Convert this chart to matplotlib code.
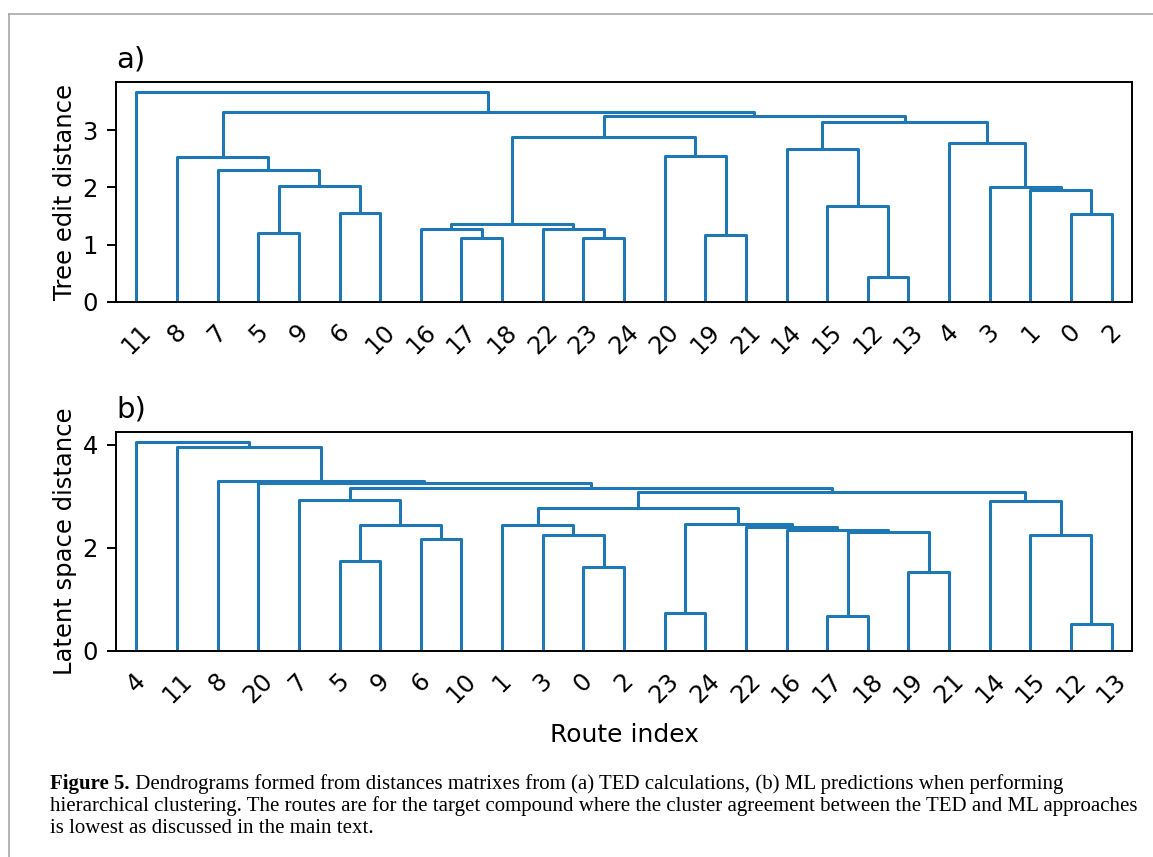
import matplotlib
matplotlib.use("Agg")
import matplotlib.pyplot as plt
from matplotlib.lines import Line2D

# leaf order along the x axis (as drawn by the dendrogram)
leaves_a = [11, 8, 7, 5, 9, 6, 10, 16, 17, 18, 22, 23, 24, 20, 19, 21, 14, 15, 12, 13, 4, 3, 1, 0, 2]
leaves_b = [4, 11, 8, 20, 7, 5, 9, 6, 10, 1, 3, 0, 2, 23, 24, 22, 16, 17, 18, 19, 21, 14, 15, 12, 13]

# linkage rows: left child, right child, merge height (cluster ids start at 25)
links_a = [
    (5, 9, 1.20), (6, 10, 1.55), (25, 26, 2.02), (7, 27, 2.30), (8, 28, 2.53),
    (17, 18, 1.11), (16, 30, 1.28), (23, 24, 1.11), (22, 32, 1.28), (31, 33, 1.365),
    (19, 21, 1.17), (20, 35, 2.55), (34, 36, 2.88), (12, 13, 0.43), (15, 38, 1.68),
    (14, 39, 2.67), (0, 2, 1.54), (1, 41, 1.95), (3, 42, 2.00), (4, 43, 2.78),
    (40, 44, 3.15), (37, 45, 3.25), (29, 46, 3.32), (11, 47, 3.67),
]
links_b = [
    (5, 9, 1.75), (6, 10, 2.17), (25, 26, 2.44), (7, 27, 2.93), (0, 2, 1.63),
    (3, 29, 2.24), (1, 30, 2.44), (23, 24, 0.74), (17, 18, 0.68), (19, 21, 1.54),
    (33, 34, 2.30), (16, 35, 2.35), (22, 36, 2.40), (32, 37, 2.46), (31, 38, 2.78),
    (12, 13, 0.52), (15, 40, 2.24), (14, 41, 2.90), (39, 42, 3.08), (28, 43, 3.16),
    (20, 44, 3.25), (8, 45, 3.29), (11, 46, 3.95), (4, 47, 4.05),
]

caption_bold = "Figure 5."
caption_lines = [
    " Dendrograms formed from distances matrixes from (a) TED calculations, (b) ML predictions when performing",
    "hierarchical clustering. The routes are for the target compound where the cluster agreement between the TED and ML approaches",
    "is lowest as discussed in the main text.",
]

plt.rcParams["font.size"] = 17.5
plt.rcParams["axes.linewidth"] = 1.4
plt.rcParams["ytick.major.size"] = 6.5
plt.rcParams["ytick.major.width"] = 1.4
plt.rcParams["ytick.major.pad"] = 6.5
plt.rcParams["xtick.major.size"] = 6.5
plt.rcParams["xtick.major.pad"] = 6.5


def dendro(ax, order, links):
    n = len(order)
    xs = {leaf: 10 * i + 5 for i, leaf in enumerate(order)}
    hs = {leaf: 0.0 for leaf in order}
    for k, (a, b, h) in enumerate(links):
        ax.plot([xs[a], xs[a], xs[b], xs[b]], [hs[a], h, h, hs[b]], color="C0", lw=2.2)
        xs[n + k] = (xs[a] + xs[b]) / 2
        hs[n + k] = h
    ax.set_xlim(0, 10 * n)
    ax.set_ylim(0, max(l[2] for l in links) * 1.05)
    ax.set_xticks([10 * i + 5 for i in range(n)])
    ax.set_xticklabels([str(v) for v in order], rotation=45)
    for t in ax.get_xticklines():
        t.set_visible(False)


fig = plt.figure(figsize=(11.53, 8.57), dpi=100)
ax1 = fig.add_axes([0.1006, 0.648, 0.8812, 0.2567])
ax2 = fig.add_axes([0.1006, 0.2404, 0.8812, 0.2559])

dendro(ax1, leaves_a, links_a)
ax1.set_ylabel("Tree edit distance")
ax1.set_title("a)", loc="left", pad=10.5)

dendro(ax2, leaves_b, links_b)
ax2.set_ylabel("Latent space distance")
ax2.set_xlabel("Route index", labelpad=11, fontsize=18)
ax2.set_title("b)", loc="left", pad=10.5)

# page frame
fig.add_artist(Line2D([0.0078, 1.0], [0.984, 0.984], color="#a8a8a8", lw=1.2))
fig.add_artist(Line2D([0.0078, 0.0078], [0.0, 0.984], color="#a8a8a8", lw=1.2))

# caption
cap_font = dict(family="Liberation Serif", fontsize=15)
x0 = 50 / 1153
y0 = 1 - 789 / 857
dy = 22 / 857
t = fig.text(x0, y0, caption_bold, weight="bold", va="baseline", **cap_font)
r = fig.canvas.get_renderer()
bb = t.get_window_extent(renderer=r)
fig.text(bb.x1 / fig.bbox.width, y0, caption_lines[0], va="baseline", **cap_font)
fig.text(x0, y0 - dy, caption_lines[1], va="baseline", **cap_font)
fig.text(x0, y0 - 2 * dy, caption_lines[2], va="baseline", **cap_font)

fig.savefig("out.png", dpi=100)
